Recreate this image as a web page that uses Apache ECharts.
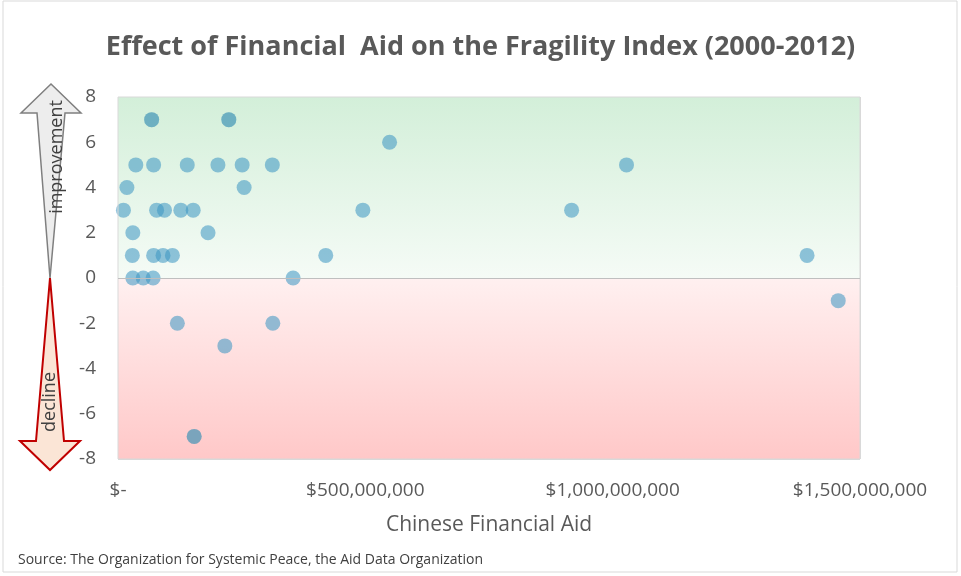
<!DOCTYPE html>
<html>
<head>
<meta charset="utf-8">
<script src="https://cdn.jsdelivr.net/npm/echarts@6/dist/echarts.min.js"></script>
<style>
  html, body { margin: 0; padding: 0; background: #fff; }
  #chart { width: 961px; height: 576px; }
</style>
</head>
<body>
<div id="chart"></div>
<script>
// 数据：中国援助额（美元）与脆弱性指数变化
var aidAmount = [
  68e6, 224e6, 36e6, 72e6, 140e6, 202e6, 251e6, 312e6,
  18e6, 255e6, 11e6, 78e6, 94e6, 127e6, 152e6, 30e6,
  182e6, 29e6, 72e6, 91e6, 110e6, 30e6, 51e6, 71e6,
  354e6, 120e6, 313e6, 216e6, 154e6, 549e6, 495e6, 917e6,
  1028e6, 420e6, 1393e6, 1456e6
];
var indexChange = [
  7, 7, 5, 5, 5, 5, 5, 5,
  4, 4, 3, 3, 3, 3, 3, 2,
  2, 1, 1, 1, 1, 0, 0, 0,
  0, -2, -2, -3, -7, 6, 3, 3,
  5, 1, 1, -1
];
// 重叠的点（颜色更深）
var overlapIdx = [0, 1, 28];
var xTicks = [0, 5e8, 10e8, 15e8];
var yTicks = [-8, 8, 2];

var points = aidAmount.map(function (v, i) { return [v, indexChange[i]]; });
var overlapPts = overlapIdx.map(function (i) { return points[i]; });

var chart = echarts.init(document.getElementById('chart'));
var font = '"Open Sans", sans-serif';

function money(v) {
  if (v === 0) return '$-';
  return '$' + v.toFixed(0).replace(/\B(?=(\d{3})+(?!\d))/g, ',');
}

chart.setOption({
  backgroundColor: '#fff',
  animation: false,
  title: {
    text: 'Effect of Financial  Aid on the Fragility Index (2000-2012)',
    left: 'center',
    top: 29,
    textStyle: { fontFamily: font, fontSize: 27, fontWeight: 'bold', color: '#595959' }
  },
  grid: { left: 118, right: 101, top: 97, bottom: 117 },
  xAxis: {
    type: 'value',
    min: xTicks[0],
    max: xTicks[3],
    interval: xTicks[1],
    name: 'Chinese Financial Aid',
    nameLocation: 'middle',
    nameGap: 56,
    nameTextStyle: { fontFamily: font, fontSize: 21, color: '#595959' },
    axisLine: { show: false },
    axisTick: { show: false },
    axisLabel: { formatter: money, fontFamily: font, fontSize: 19, color: '#595959', margin: 22 },
    splitLine: { show: true, lineStyle: { color: '#d9d9d9' } }
  },
  yAxis: {
    type: 'value',
    min: yTicks[0],
    max: yTicks[1],
    interval: yTicks[2],
    axisLine: { show: false },
    axisTick: { show: false },
    axisLabel: { fontFamily: font, fontSize: 19, color: '#595959', margin: 22 },
    splitLine: { show: true, lineStyle: { color: '#d9d9d9' } }
  },
  series: [
    {
      type: 'scatter',
      data: points,
      symbolSize: 15,
      itemStyle: { color: 'rgba(60,150,195,0.7)' },
      markArea: {
        silent: true,
        data: [
          [{ yAxis: 0, itemStyle: { color: {
              type: 'linear', x: 0, y: 0, x2: 0, y2: 1,
              colorStops: [{ offset: 0, color: '#d3efd9' }, { offset: 1, color: '#f5fbf6' }]
            } } }, { yAxis: 8 }],
          [{ yAxis: -8, itemStyle: { color: {
              type: 'linear', x: 0, y: 0, x2: 0, y2: 1,
              colorStops: [{ offset: 0, color: '#fff0f0' }, { offset: 1, color: '#ffc8c8' }]
            } } }, { yAxis: 0 }]
        ]
      },
      markLine: {
        silent: true,
        symbol: 'none',
        label: { show: false },
        lineStyle: { color: '#bfbfbf', type: 'solid', width: 1 },
        data: [{ yAxis: 0 }]
      },
      z: 3
    },
    {
      type: 'scatter',
      data: overlapPts,
      symbolSize: 15,
      itemStyle: { color: 'rgba(60,140,160,0.35)' },
      z: 4
    }
  ],
  graphic: [
    // 外框
    { type: 'rect', shape: { x: 3, y: 1, width: 954, height: 571 }, style: { fill: 'none', stroke: '#d9d9d9', lineWidth: 1 }, z: -1 },
    // 绘图区边框
    { type: 'rect', shape: { x: 118, y: 97, width: 742, height: 362 }, style: { fill: 'none', stroke: '#d9d9d9', lineWidth: 1 }, z: 5 },
    // 上箭头
    { type: 'polygon', shape: { points: [[51, 84], [81, 113], [65, 113], [50, 278], [37, 113], [21, 113]] },
      style: { fill: '#ededed', stroke: '#7f7f7f', lineWidth: 1.5 }, z: 10 },
    { type: 'text', x: 57, y: 157, rotation: Math.PI / 2,
      style: { text: 'improvement', fontFamily: font, fontSize: 18, fill: '#404040', align: 'center', verticalAlign: 'middle' }, z: 11 },
    // 下箭头
    { type: 'polygon', shape: { points: [[50, 278], [64, 441], [80, 441], [50, 470], [20, 441], [36, 441]] },
      style: { fill: '#fbe5d6', stroke: '#c00000', lineWidth: 2 }, z: 10 },
    { type: 'text', x: 50, y: 402, rotation: Math.PI / 2,
      style: { text: 'decline', fontFamily: font, fontSize: 18, fill: '#404040', align: 'center', verticalAlign: 'middle' }, z: 11 },
    // 来源
    { type: 'text', left: 18, top: 553,
      style: { text: 'Source: The Organization for Systemic Peace, the Aid Data Organization', fontFamily: font, fontSize: 14, fill: '#404040' } }
  ]
});
</script>
</body>
</html>
